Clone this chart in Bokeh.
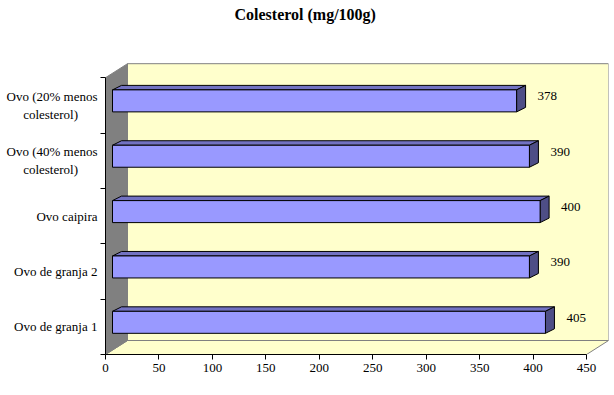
from bokeh.plotting import figure
from bokeh.models import Range1d, FixedTicker, ColumnDataSource, Title
from bokeh.core.properties import value
from bokeh.embed import file_html
from bokeh.resources import INLINE

# ---- data ----
categories = ["Ovo de granja 1", "Ovo de granja 2", "Ovo caipira",
              "Ovo (40% menos\ncolesterol)", "Ovo (20% menos\ncolesterol)"]
values = [405, 390, 400, 390, 378]
x_ticks = [0, 50, 100, 150, 200, 250, 300, 350, 400, 450]
title_text = "Colesterol (mg/100g)"

# ---- layout ----
W, H = 610, 395
BL, BR, BT, BB = 105, 2, 62, 41
FW = W - BL - BR
FH = H - BT - BB
PXX = 1.069   # pixels per value unit
PXY = 55.36   # pixels per category band
X_END = FW / PXX
Y_END = FH / PXY
ux, uy = 1.0 / PXX, 1.0 / PXY
x_max = x_ticks[-1]
n = len(categories)
centers = [i + 0.5 for i in range(n)]

FONT = value("Liberation Serif")

p = figure(width=W, height=H, output_backend="svg", toolbar_location=None,
           title=None,
           x_range=Range1d(0, X_END), y_range=Range1d(0, Y_END),
           min_border_left=BL, min_border_right=BR, min_border_top=BT,
           min_border_bottom=BB, background_fill_color="white",
           border_fill_color="white", outline_line_color=None)
p.xgrid.visible = False
p.ygrid.visible = False

# ---- title (a blank spacer title keeps the real one near the top) ----
p.add_layout(Title(text=" ", text_font_size="10px", standoff=25), "above")
p.add_layout(Title(text=title_text, align="left", offset=129,
                   vertical_align="top", standoff=0,
                   text_font="Liberation Serif", text_font_size="16px",
                   text_font_style="bold", text_color="black"), "above")

# ---- 3D walls ----
WDX, WDY = 22 * ux, 14 * uy
WALL = "#808080"
p.quad(left=[WDX], right=[x_max + WDX], bottom=[WDY], top=[n + WDY],
       fill_color="#FFFFCC", line_color=WALL, line_width=1)
p.patch([0, WDX, x_max + WDX, x_max], [0, WDY, WDY, 0],
        fill_color="#FFFFCC", line_color=WALL, line_width=1)
p.patch([0, WDX, WDX, 0], [0, WDY, n + WDY, n],
        fill_color="#808080", line_color=WALL, line_width=1)

# ---- 3D bars ----
OX, OY = 7 * ux, 4.5 * uy
BH = 22 * uy
BDX, BDY = 9 * ux, 4.5 * uy
bot = [c + OY - BH / 2 for c in centers]
top = [c + OY + BH / 2 for c in centers]
right = [v + OX for v in values]

top_xs = [[OX, OX + BDX, r + BDX, r] for r in right]
top_ys = [[t, t + BDY, t + BDY, t] for t in top]
side_xs = [[r, r + BDX, r + BDX, r] for r in right]
side_ys = [[b, b + BDY, t + BDY, t] for b, t in zip(bot, top)]

p.patches(top_xs, top_ys, fill_color="#7272C2", line_color="black", line_width=1)
p.patches(side_xs, side_ys, fill_color="#4E4E86", line_color="black", line_width=1)
p.quad(left=[OX] * n, right=right, bottom=bot, top=top,
       fill_color="#9999FF", line_color="black", line_width=1)

# ---- value labels ----
src = ColumnDataSource(dict(
    x=[v + (7 + 9 + 12) * ux for v in values],
    y=[c + 9 * uy for c in centers],
    t=[str(v) for v in values]))
p.text(x="x", y="y", text="t", source=src, text_font=FONT,
       text_font_size="13px", text_color="black",
       text_align="left", text_baseline="middle")

# ---- axes ----
xa = p.xaxis[0]
xa.ticker = FixedTicker(ticks=x_ticks)
xa.bounds = (0, x_max)
xa.major_tick_out = 5
xa.major_tick_in = 0
xa.minor_tick_line_color = None
xa.axis_line_color = "black"
xa.major_label_text_font = "Liberation Serif"
xa.major_label_text_font_size = "13px"
xa.major_label_text_color = "black"
xa.major_label_standoff = 4

ya = p.yaxis[0]
ya.ticker = FixedTicker(ticks=centers, minor_ticks=list(range(n + 1)))
ya.bounds = (0, n)
ya.major_tick_line_color = None
ya.major_tick_out = 5
ya.major_tick_in = 0
ya.minor_tick_out = 5
ya.minor_tick_in = 0
ya.minor_tick_line_color = "black"
ya.axis_line_color = "black"
nb = "\u00a0" * 6
ya.major_label_overrides = {
    c: (lab + nb if "\n" in lab else lab)
    for c, lab in zip(centers, categories)}
ya.major_label_text_font = "Liberation Serif"
ya.major_label_text_font_size = "13px"
ya.major_label_text_color = "black"
ya.major_label_standoff = 3

open("out.html", "w").write(file_html(p, INLINE))
